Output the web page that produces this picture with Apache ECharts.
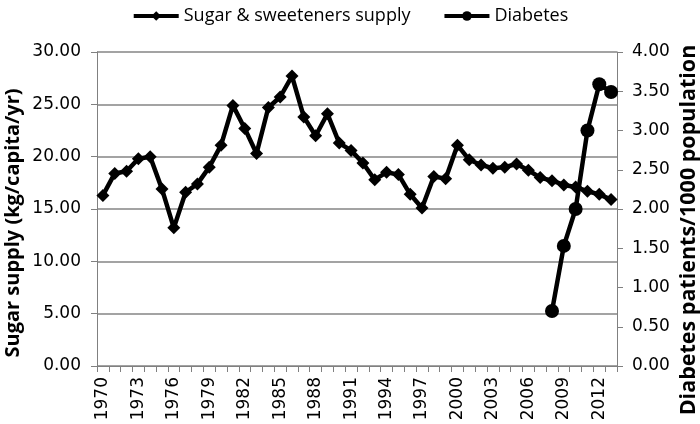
<!DOCTYPE html>
<html>
<head>
<meta charset="utf-8">
<script src="https://cdn.jsdelivr.net/npm/echarts@6/dist/echarts.min.js"></script>
<style>html,body{margin:0;padding:0;background:#fff}#c{width:700px;height:424px}</style>
</head>
<body>
<div id="c"></div>
<script>
const years = ['1970','1971','1972','1973','1974','1975','1976','1977','1978','1979','1980','1981','1982','1983','1984','1985','1986','1987','1988','1989','1990','1991','1992','1993','1994','1995','1996','1997','1998','1999','2000','2001','2002','2003','2004','2005','2006','2007','2008','2009','2010','2011','2012','2013'];
const sugarSupply = [16.3,18.4,18.6,19.8,20.0,16.9,13.2,16.6,17.4,19.0,21.1,24.9,22.7,20.3,24.7,25.7,27.7,23.8,22.0,24.1,21.3,20.6,19.4,17.8,18.5,18.3,16.4,15.1,18.1,17.9,21.1,19.7,19.2,18.9,19.0,19.3,18.7,18.0,17.7,17.3,17.1,16.7,16.4,15.9];
const diabetes = [null,null,null,null,null,null,null,null,null,null,null,null,null,null,null,null,null,null,null,null,null,null,null,null,null,null,null,null,null,null,null,null,null,null,null,null,null,null,0.70,1.53,2.00,3.00,3.59,3.49];
const leftTitle = 'Sugar supply (kg/capita/yr)';
const rightTitle = 'Diabetes patients/1000 population';

const chart = echarts.init(document.getElementById('c'));
const tickFont = {fontFamily:'DejaVu Sans', fontSize:17, color:'#000'};
chart.setOption({
  animation:false,
  legend:{
    top:2, left:'center', itemGap:32, itemWidth:45, itemHeight:12,
    lineStyle:{width:4},
    textStyle:{fontFamily:'Open Sans', fontSize:18, color:'#000'},
    data:['Sugar & sweeteners supply','Diabetes']
  },
  graphic:[
    {type:'text', x:13, y:223, rotation:Math.PI/2,
     style:{text:leftTitle, align:'center', verticalAlign:'middle', fill:'#000',
            font:'bold 20px "Open Sans"'}},
    {type:'text', x:689, y:230, rotation:Math.PI/2,
     style:{text:rightTitle, align:'center', verticalAlign:'middle', fill:'#000',
            font:'bold 21.5px "Open Sans"'}}
  ],
  grid:{left:97, right:83, top:52, bottom:58},
  xAxis:{
    type:'category', data:years, boundaryGap:true,
    axisLine:{lineStyle:{color:'#808080', width:1}},
    axisTick:{show:true, alignWithLabel:false, interval:0, length:6, lineStyle:{color:'#808080'}},
    axisLabel:Object.assign({rotate:90, interval:2, margin:11}, tickFont)
  },
  yAxis:[{
    type:'value', min:0, max:30, interval:5,
    axisLine:{show:true, lineStyle:{color:'#808080'}},
    axisTick:{show:true, length:6, lineStyle:{color:'#808080'}},
    splitLine:{show:true, lineStyle:{color:'#858585', width:1.5}},
    axisLabel:Object.assign({margin:16, formatter:v=>v.toFixed(2)}, tickFont)
  },{
    type:'value', min:0, max:4, interval:0.5, position:'right',
    axisLine:{show:true, lineStyle:{color:'#808080'}},
    axisTick:{show:true, length:6, lineStyle:{color:'#808080'}},
    splitLine:{show:false},
    axisLabel:Object.assign({margin:15, formatter:v=>v.toFixed(2)}, tickFont)
  }],
  series:[{
    name:'Sugar & sweeteners supply', type:'line', data:sugarSupply, yAxisIndex:0,
    symbol:'diamond', symbolSize:13, showAllSymbol:true,
    lineStyle:{color:'#000', width:4.5}, itemStyle:{color:'#000'}
  },{
    name:'Diabetes', type:'line', data:diabetes, yAxisIndex:1, connectNulls:false,
    symbol:'circle', symbolSize:14, showAllSymbol:true,
    lineStyle:{color:'#000', width:4.5}, itemStyle:{color:'#000'}
  }]
});
</script>
</body>
</html>
